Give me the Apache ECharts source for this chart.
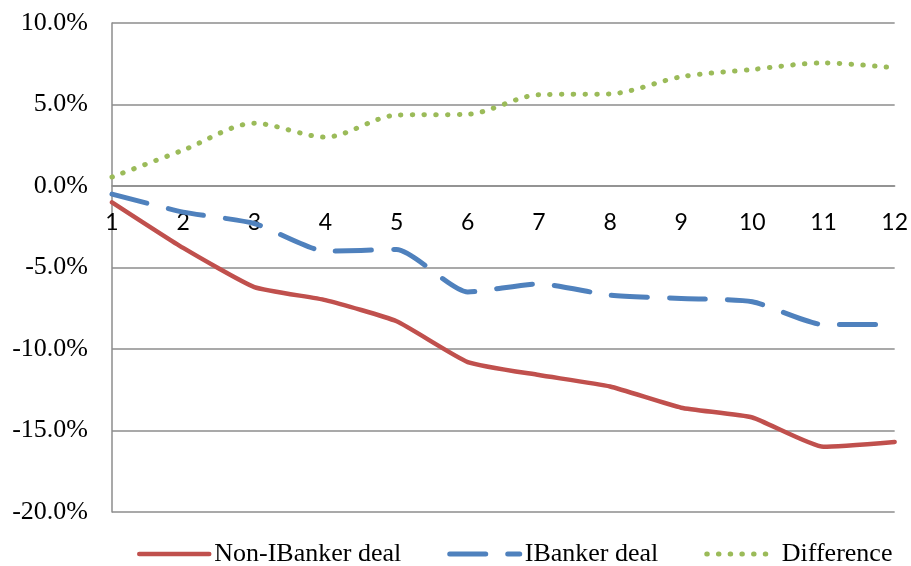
<!DOCTYPE html>
<html>
<head>
<meta charset="utf-8">
<script src="https://cdn.jsdelivr.net/npm/echarts@6/dist/echarts.min.js"></script>
<style>
  html, body { margin: 0; padding: 0; background: #fff; }
  #chart { width: 911px; height: 566px; }
</style>
</head>
<body>
<div id="chart"></div>
<script>
// Months after the deal
const categories = ['1', '2', '3', '4', '5', '6', '7', '8', '9', '10', '11', '12'];

// Cumulative returns, in percent
const nonIBanker = [-1.0, -3.8, -6.2, -7.0, -8.3, -10.8, -11.6, -12.3, -13.6, -14.2, -16.0, -15.7];
const iBanker    = [-0.5, -1.6, -2.3, -4.0, -3.9, -6.5, -6.0, -6.7, -6.9, -7.1, -8.5, -8.5];
const difference = [0.55, 2.2, 3.85, 3.0, 4.35, 4.4, 5.6, 5.65, 6.7, 7.15, 7.55, 7.25];

const seriesNames = ['Non-IBanker deal', 'IBanker deal', 'Difference'];

// Value axis ticks
const yMin = -20, yMax = 10, yStep = 5;

const serif = '"Liberation Serif", "Times New Roman", serif';
const gridGray = '#8c8c8c';

const red = '#c0504d', blue = '#4f81bd', green = '#9bbb59';
const redLine = { color: red, width: 4.5, cap: 'round', join: 'round' };
const blueLine = { color: blue, width: 5, type: [36, 22], cap: 'round', join: 'round' };
const greenLine = { color: green, width: 5, type: [0.5, 11.2], cap: 'round' };

// Plot box
const gridTop = 23, gridBottom = 54, chartHeight = 566;
const plotHeight = chartHeight - gridTop - gridBottom;
// Category axis sits on the zero line
const zeroOffset = -plotHeight * (0 - yMin) / (yMax - yMin);

const chart = echarts.init(document.getElementById('chart'), null, { renderer: 'canvas' });

chart.setOption({
  animation: false,
  backgroundColor: '#fff',
  grid: { left: 112, right: 16, top: gridTop, bottom: gridBottom, containLabel: false },
  xAxis: {
    type: 'category',
    data: categories,
    boundaryGap: false,
    offset: zeroOffset,
    axisLine: { onZero: false, lineStyle: { color: gridGray, width: 1.5 } },
    axisTick: { show: false },
    axisLabel: { color: '#000', fontFamily: 'Lato, "Open Sans", sans-serif', fontSize: 23, margin: 25 },
    splitLine: { show: false }
  },
  yAxis: {
    type: 'value',
    min: yMin,
    max: yMax,
    interval: yStep,
    axisLine: { show: true, lineStyle: { color: gridGray, width: 1.5 } },
    axisTick: { show: false },
    axisLabel: {
      color: '#000', fontFamily: serif, fontSize: 26, margin: 24,
      formatter: v => v.toFixed(1) + '%'
    },
    splitLine: { show: true, lineStyle: { color: gridGray, width: 1.5 } }
  },
  legend: {
    top: 536,
    left: 132,
    itemWidth: 70,
    itemHeight: 22,
    itemGap: 46,
    textStyle: { color: '#000', fontFamily: serif, fontSize: 26 },
    data: [
      { name: seriesNames[0], lineStyle: redLine, itemStyle: { opacity: 0 } },
      { name: seriesNames[1], lineStyle: blueLine, itemStyle: { opacity: 0 } },
      { name: seriesNames[2], lineStyle: greenLine, itemStyle: { opacity: 0 } }
    ]
  },
  series: [
    {
      name: seriesNames[0],
      type: 'line',
      data: nonIBanker,
      smooth: 0.15,
      symbol: 'none',
      color: red,
      lineStyle: redLine
    },
    {
      name: seriesNames[1],
      type: 'line',
      data: iBanker,
      smooth: 0.2,
      symbol: 'none',
      color: blue,
      lineStyle: blueLine
    },
    {
      name: seriesNames[2],
      type: 'line',
      data: difference,
      smooth: 0.3,
      symbol: 'none',
      color: green,
      lineStyle: greenLine
    }
  ]
});
</script>
</body>
</html>
